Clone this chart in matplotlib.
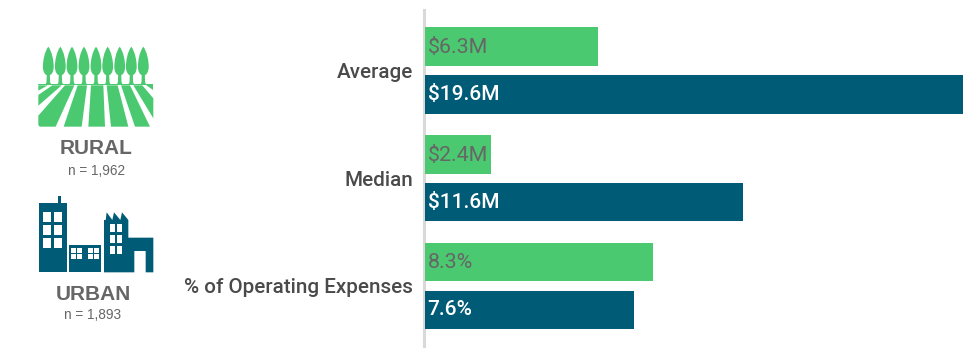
import matplotlib
matplotlib.use("Agg")
import matplotlib.pyplot as plt
from matplotlib.patches import Polygon, PathPatch
from matplotlib.path import Path

categories = ["Average", "Median", "% of Operating Expenses"]
rural_values = [6.3, 2.4, 8.3]
urban_values = [19.6, 11.6, 7.6]
rural_labels = ["$6.3M", "$2.4M", "8.3%"]
urban_labels = ["$19.6M", "$11.6M", "7.6%"]

GREEN = "#4bc970"
NAVY = "#005b76"
W, H = 980, 356

fig = plt.figure(figsize=(W / 100, H / 100), dpi=100, facecolor="white")

# Bar chart
ax = fig.add_axes([425 / W, (H - 346) / H, (W - 425) / W, 336 / H])
for s in ["top", "right", "bottom"]:
    ax.spines[s].set_visible(False)
ax.spines["left"].set_color("#d9d9d9")
ax.spines["left"].set_linewidth(2.2)
ax.spines["left"].set_position(("outward", 0.8))
ax.set_xlim(0, (W - 425) / 27.45)
ax.set_ylim(2.557, -0.5615)
yp = list(range(len(categories)))
bh = 0.358
off = 0.222
ax.barh([y - off for y in yp], rural_values, height=bh, color=GREEN, zorder=3)
ax.barh([y + off for y in yp], urban_values, height=bh, color=NAVY, zorder=3)
ax.tick_params(axis="y", length=0, pad=8)
ax.set_yticks(yp)
ax.set_yticklabels(categories, fontfamily="Roboto", fontweight="medium", fontsize=14.9,
                   color="#4a4a4a")
ax.set_xticks([])
for y, t in zip(yp, rural_labels):
    ax.text(0.1, y - off + 0.008, t, color="#666666", fontfamily="Roboto", fontsize=15.4,
            va="center", ha="left", zorder=4)
for y, t in zip(yp, urban_labels):
    ax.text(0.1, y + off, t, color="white", fontfamily="Roboto", fontsize=15,
            fontweight="medium", va="center", ha="left", zorder=4)

# Icon layer, in pixel coordinates
ov = fig.add_axes([0, 0, 1, 1], facecolor="none")
ov.set_xlim(0, W)
ov.set_ylim(H, 0)
ov.axis("off")


def z4(p):
    return [(35 + x / 3, 75 + y / 3) for x, y in p]


def z5(p):
    return [(35 + x / 3, 195 + y / 3) for x, y in p]


def rect5(x0, y0, x1, y1, c):
    ov.add_patch(Polygon(z5([(x0, y0), (x1, y0), (x1, y1), (x0, y1)]), closed=True,
                         fc=c, ec="none"))


# Trees
for cx in [48.3, 60.3, 72, 84, 96, 107.7, 119.7, 131.3, 143.3]:
    top, bot, r = 46.7, 75.5, 5.4
    verts = [(cx, top), (cx + r * 0.7, top + 5), (cx + r, top + 14), (cx + r, top + 20),
             (cx + r, top + 26), (cx + r * 0.5, bot), (cx, bot),
             (cx - r * 0.5, bot), (cx - r, top + 26), (cx - r, top + 20),
             (cx - r, top + 14), (cx - r * 0.7, top + 5), (cx, top), (cx, top)]
    codes = [Path.MOVETO] + [Path.CURVE4] * 12 + [Path.CLOSEPOLY]
    ov.add_patch(PathPatch(Path(verts, codes), fc=GREEN, ec="none"))
    ov.add_patch(Polygon([(cx - 1.5, 74), (cx + 1.5, 74), (cx + 1.8, 82), (cx + 3.0, 85),
                          (cx - 3.0, 85), (cx - 1.8, 82)], closed=True, fc=GREEN, ec="none"))

# Field
field = [
    [(10, 27), (355, 27), (355, 31), (10, 31)],
    [(10, 31), (38, 31), (10, 47)],
    [(52, 31), (80, 31), (10, 92), (10, 60)],
    [(90, 31), (118, 31), (62, 155), (14, 155), (10, 150), (10, 122)],
    [(128, 31), (156, 31), (140, 155), (86, 155)],
    [(168, 31), (205, 31), (210, 155), (160, 155)],
    [(215, 31), (248, 31), (280, 155), (228, 155)],
    [(258, 31), (285, 31), (345, 155), (300, 155)],
    [(295, 31), (322, 31), (355, 70), (355, 130)],
    [(332, 31), (355, 31), (355, 46)],
]
for p in field:
    ov.add_patch(Polygon(z4(p), closed=True, fc=GREEN, ec="none"))

# Buildings
rect5(11, 23, 96, 232, NAVY)
rect5(70, 3, 77, 23, NAVY)
for y0 in (52, 91, 130):
    for x0 in (25, 57):
        rect5(x0, y0, x0 + 24, y0 + 28, "white")
rect5(101, 150, 198, 232, NAVY)
for gx in (108, 159):
    for y0 in (160, 178):
        for dx in (0, 18):
            rect5(gx + dx, y0, gx + dx + 15, y0 + 14, "white")
ov.add_patch(Polygon(z5([(207, 232), (207, 75), (212, 75), (215, 52), (232, 75), (237, 52),
                         (256, 75), (261, 52), (280, 75), (280, 128), (355, 128), (355, 232),
                         (332, 232), (332, 168), (298, 168), (298, 232)]),
                     closed=True, fc=NAVY, ec="none"))
for y0 in (88, 120, 152):
    for x0 in (224, 246):
        rect5(x0, y0, x0 + 16, y0 + 24, "white")

# Icon captions
for x, y, t in [(96, 148, "RURAL"), (93, 294, "URBAN")]:
    ov.text(x, y, t, family="Liberation Sans", fontweight="bold", fontsize=15,
            color="#666666", ha="center", va="center")
for x, y, t in [(96, 171, "n = 1,962"), (93, 315, "n = 1,893")]:
    ov.text(x, y, t, family="Liberation Sans", fontsize=9.8,
            color="#666666", ha="center", va="center")

fig.savefig("out.png", dpi=100, facecolor="white")
